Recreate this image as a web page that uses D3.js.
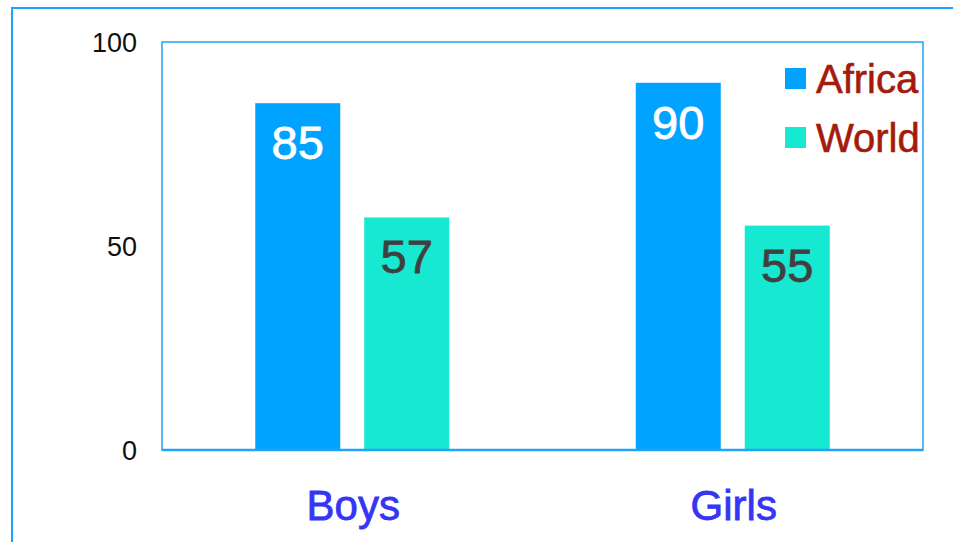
<!DOCTYPE html>
<html>
<head>
<meta charset="utf-8">
<script src="https://cdn.jsdelivr.net/npm/d3@7"></script>
<style>
  html, body { margin: 0; padding: 0; background: #fff; }
  svg { display: block; }
</style>
</head>
<body>
<svg id="chart" width="953" height="542"></svg>
<script>
// Chart data
const categories = ["Boys", "Girls"];
const seriesNames = ["Africa", "World"];
const africaValues = [85, 90];
const worldValues = [57, 55];
const yTicks = [0, 50, 100];

const colors = { Africa: "#00a3ff", World: "#17e8d2" };
const labelColors = { Africa: "#ffffff", World: "#404040" };
const FONT = "'Liberation Sans', Arial, Helvetica, sans-serif";

const svg = d3.select("#chart");
const W = 953, H = 542;
const plot = { left: 162, right: 923, top: 42, bottom: 450 };

// Outer frame (runs off the right and bottom edges)
svg.append("rect")
  .attr("x", 12).attr("y", 8)
  .attr("width", W).attr("height", H)
  .attr("fill", "none").attr("stroke", "#1aa3ff").attr("stroke-width", 2);

const x0 = d3.scaleBand().domain(categories).range([plot.left, plot.right]);
const x1 = d3.scaleBand().domain(seriesNames).range([0, 194]).paddingInner(0.22);
const y = d3.scaleLinear().domain([0, 100]).range([plot.bottom, plot.top]);

// Plot area border
svg.append("rect")
  .attr("x", plot.left).attr("y", plot.top)
  .attr("width", plot.right - plot.left).attr("height", plot.bottom - plot.top)
  .attr("fill", "none").attr("stroke", "#22a4f2").attr("stroke-width", 1.5);

// Y axis tick labels
const yAxis = d3.axisLeft(y).tickValues(yTicks).tickSize(0).tickPadding(0);
const gy = svg.append("g").attr("transform", `translate(137,0)`).call(yAxis);
gy.select(".domain").remove();
gy.selectAll("text")
  .attr("font-family", FONT)
  .attr("font-size", 27)
  .attr("fill", "#111")
  .attr("dy", "0.36em");

const rows = categories.map((c, i) => ({
  cat: c,
  vals: [
    { key: "Africa", value: africaValues[i] },
    { key: "World", value: worldValues[i] }
  ]
}));

const groups = svg.selectAll("g.grp").data(rows).join("g")
  .attr("class", "grp")
  .attr("transform", d => `translate(${x0(d.cat) + x0.bandwidth() / 2 - 97},0)`);

groups.selectAll("rect").data(d => d.vals).join("rect")
  .attr("x", d => x1(d.key))
  .attr("y", d => y(d.value))
  .attr("width", x1.bandwidth())
  .attr("height", d => y(0) - y(d.value))
  .attr("fill", d => colors[d.key]);

groups.selectAll("text.val").data(d => d.vals).join("text")
  .attr("class", "val")
  .attr("x", d => x1(d.key) + x1.bandwidth() / 2)
  .attr("y", d => y(d.value) + 56)
  .attr("text-anchor", "middle")
  .attr("font-family", FONT)
  .attr("font-size", 47)
  .attr("fill", d => labelColors[d.key])
  .attr("stroke", d => labelColors[d.key])
  .attr("stroke-width", 0.8)
  .text(d => d.value);

// Baseline
svg.append("line")
  .attr("x1", plot.left).attr("x2", plot.right)
  .attr("y1", y(0)).attr("y2", y(0))
  .attr("stroke", "#22a4f2").attr("stroke-width", 2.5);

// Category labels
svg.selectAll("text.cat").data(categories).join("text")
  .attr("class", "cat")
  .attr("x", d => x0(d) + x0.bandwidth() / 2 + 1)
  .attr("y", 520)
  .attr("text-anchor", "middle")
  .attr("font-family", FONT)
  .attr("font-size", 42)
  .attr("fill", "#3535f5")
  .attr("stroke", "#3535f5")
  .attr("stroke-width", 0.8)
  .text(d => d);

// Legend
const legend = svg.append("g");
const items = legend.selectAll("g").data(seriesNames).join("g")
  .attr("transform", (d, i) => `translate(785,${68 + i * 59})`);
items.append("rect")
  .attr("width", 21).attr("height", 21)
  .attr("fill", d => colors[d]);
items.append("text")
  .attr("x", 31).attr("y", 25)
  .attr("font-family", FONT)
  .attr("font-size", 40)
  .attr("fill", "#a41a0b")
  .attr("stroke", "#a41a0b")
  .attr("stroke-width", 0.6)
  .text(d => d);
</script>
</body>
</html>
